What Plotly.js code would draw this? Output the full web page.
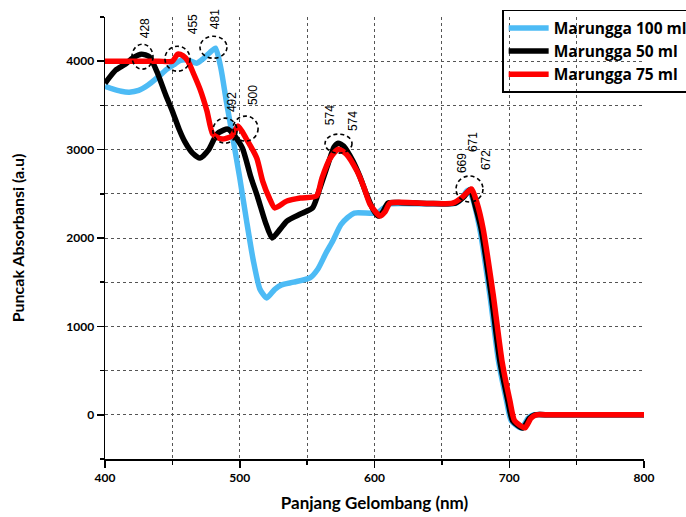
<!DOCTYPE html>
<html>
<head>
<meta charset="utf-8">
<script src="https://cdn.plot.ly/plotly-3.0.1.min.js"></script>
<style>html,body{margin:0;padding:0;background:#fff;}#chart{width:686px;height:517px;}</style>
</head>
<body>
<div id="chart"></div>
<script>
// Series names
const seriesNames = ["Marungga 100 ml", "Marungga 50 ml", "Marungga 75 ml"];

// Marungga 100 ml (blue)
const wl100 = [400, 405, 412, 418, 425, 432, 440, 446, 452, 456, 462, 468, 473, 478, 482, 486, 490, 495, 500, 505, 510, 515, 520, 526, 531, 540, 552, 558, 564, 569, 575, 580, 585, 602, 606, 612, 640, 660, 665, 669, 672, 678, 685.5, 692, 698, 701.5, 709, 714, 718, 730, 760, 800];
const abs100 = [3717, 3690, 3660, 3650, 3670, 3730, 3830, 3910, 3970, 4010, 4010, 3977, 4030, 4100, 4147, 3920, 3550, 3120, 2680, 2200, 1750, 1420, 1322, 1420, 1470, 1500, 1548, 1650, 1830, 1966, 2150, 2230, 2282, 2282, 2330, 2385, 2385, 2390, 2450, 2540, 2480, 2113, 1367, 610, 158, -68, -150, -40, 0, 0, 0, 0];

// Marungga 50 ml (black)
const wl50 = [400, 408, 415, 421, 427, 433, 439, 445, 450, 455, 459, 465, 470.5, 477, 483, 488, 491, 495, 502, 508, 513.5, 519, 524, 530, 535, 545, 554, 559.5, 565.5, 570, 573, 577, 584, 589, 594, 599, 602.6, 606, 610, 620, 640, 660, 666, 671, 675, 679, 686.5, 693, 699, 702.5, 710, 715, 719, 730, 760, 800];
const abs50 = [3750, 3900, 3966, 4040, 4080, 4050, 3864, 3620, 3435, 3230, 3096, 2960, 2904, 3000, 3175, 3220, 3232, 3180, 3017, 2700, 2452, 2180, 2000, 2100, 2192, 2271, 2340, 2565, 2836, 3030, 3073, 3040, 2870, 2700, 2497, 2320, 2248, 2290, 2395, 2400, 2390, 2395, 2460, 2550, 2350, 2113, 1367, 610, 158, -68, -150, -40, 0, 0, 0, 0];

// Marungga 75 ml (red)
const wl75 = [400, 420, 440, 450, 454, 458, 461.6, 466, 470.5, 475.7, 480, 486.8, 494, 498.7, 505, 512.6, 517, 522, 526, 535, 545, 557, 561, 567, 573, 579, 587, 592, 596.6, 604, 608, 611.5, 640, 658, 665, 672, 676, 680.5, 688, 694.6, 700.5, 704, 711.7, 716, 720, 730, 760, 800];
const abs75 = [4000, 4000, 4000, 4000, 4080, 4060, 4000, 3850, 3684, 3435, 3175, 3119, 3153, 3266, 3119, 2904, 2644, 2450, 2340, 2418, 2452, 2475, 2678, 2900, 3005, 2950, 2757, 2580, 2384, 2248, 2300, 2395, 2390, 2395, 2460, 2554, 2400, 2113, 1367, 610, 158, -68, -147, -40, 0, 0, 0, 0];

// Peak labels
const peakLabels = ["428", "455", "481", "492", "500", "574", "574", "669", "671", "672"];

const colors = ["#4dbbf5", "#000000", "#ff0000"];
const xs = [wl100, wl50, wl75];
const ys = [abs100, abs50, abs75];

const traces = seriesNames.map((n, i) => ({
  x: xs[i], y: ys[i], name: n, type: "scatter", mode: "lines",
  line: {color: colors[i], width: 5.5, shape: "spline", smoothing: 0.6}
}));

// label placement (data coords)
const labelPos = [[429.7, 4373], [465.3, 4418], [481.6, 4475], [494.2, 3537], [509.8, 3616], [567.0, 3390], [584.0, 3322], [664.9, 2847], [673.1, 3085], [682.7, 2881]];
const annotations = peakLabels.map((t, i) => ({
  x: labelPos[i][0], y: labelPos[i][1], xref: "x", yref: "y", text: t,
  showarrow: false, textangle: -90,
  font: {family: "Liberation Sans, Arial, sans-serif", size: 12, color: "#000"}
}));

const circles = [
  [420.0, 435.6, 3910, 4192], [444.5, 463.1, 3887, 4169], [470.5, 490.5, 4034, 4282],
  [480.1, 498.0, 3073, 3356], [495.0, 513.6, 3096, 3379], [563.3, 583.3, 2960, 3175],
  [660.5, 680.5, 2407, 2701]
];
const shapes = circles.map(c => ({
  type: "circle", xref: "x", yref: "y", x0: c[0], x1: c[1], y0: c[2], y1: c[3],
  line: {color: "#000", width: 1.6, dash: "4px,3px"}, layer: "above"
}));

const fontFam = "Lato, 'Open Sans', sans-serif";
const layout = {
  width: 686, height: 517,
  margin: {l: 105, r: 42, t: 17, b: 58, autoexpand: false},
  paper_bgcolor: "#fff", plot_bgcolor: "#fff",
  showlegend: true,
  legend: {
    xref: "container", yref: "container",
    x: 0.732, y: 0.981, xanchor: "left", yanchor: "top",
    bgcolor: "rgba(0,0,0,0)", bordercolor: "#000", borderwidth: 1.5,
    font: {family: "'Open Sans', sans-serif", size: 15.5, color: "#000", weight: "bold"},
    tracegroupgap: 0, itemwidth: 40
  },
  xaxis: {
    range: [400, 800], dtick: 100, tick0: 400,
    showline: true, linecolor: "#000", linewidth: 1.5, zeroline: false,
    ticks: "outside", ticklen: 7, tickcolor: "#000", tickwidth: 1.5,
    showgrid: true, gridcolor: "#555", griddash: "dot", gridwidth: 1,
    minor: {dtick: 50, ticks: "outside", ticklen: 4, tickcolor: "#000", showgrid: true, gridcolor: "#555", griddash: "dot"},
    tickfont: {family: fontFam, size: 12, color: "#000", weight: "bold"},
    title: {text: "Panjang Gelombang (nm)", font: {family: fontFam, size: 17, color: "#000", weight: "bold"}, standoff: 13}
  },
  yaxis: {
    range: [-500, 4500], dtick: 1000, tick0: 0,
    showline: true, linecolor: "#000", linewidth: 1.5, zeroline: false,
    ticks: "outside", ticklen: 7, tickcolor: "#000", tickwidth: 1.5,
    showgrid: true, gridcolor: "#555", griddash: "dot", gridwidth: 1,
    minor: {dtick: 500, ticks: "outside", ticklen: 4, tickcolor: "#000", showgrid: true, gridcolor: "#555", griddash: "dot"},
    tickfont: {family: fontFam, size: 12, color: "#000", weight: "bold"},
    title: {text: "Puncak Absorbansi (a.u)", font: {family: fontFam, size: 16, color: "#000", weight: "bold"}, standoff: 37}
  },
  annotations: annotations,
  shapes: shapes
};

Plotly.newPlot("chart", traces, layout, {displayModeBar: false, staticPlot: true});
</script>
</body>
</html>
